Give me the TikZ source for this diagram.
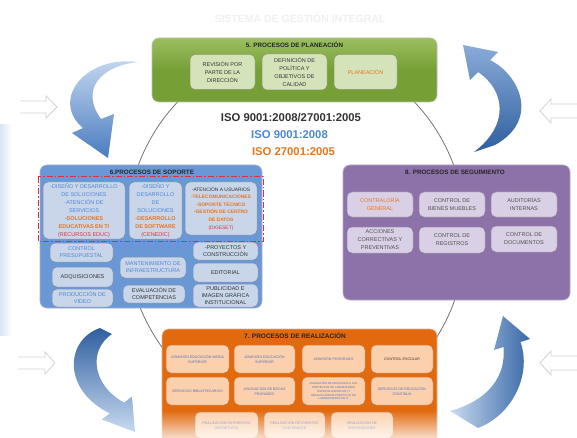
\documentclass[tikz,border=0pt]{standalone}
\usepackage{fontspec}
\setmainfont{Liberation Sans}
\usetikzlibrary{fadings}
\definecolor{gpan}{HTML}{76A036}
\definecolor{gpantop}{HTML}{9CBE60}
\definecolor{gfill}{HTML}{D5E3BB}
\definecolor{gline}{HTML}{8A9878}
\definecolor{bpan}{HTML}{6A98D6}
\definecolor{bline}{HTML}{A0B2CC}
\definecolor{bfill}{HTML}{C9D6EA}
\definecolor{bfline}{HTML}{7E8DA6}
\definecolor{ppan}{HTML}{8C72A9}
\definecolor{pline}{HTML}{B6A6CA}
\definecolor{pfill}{HTML}{D9D0E5}
\definecolor{pfline}{HTML}{9A8FAA}
\definecolor{opan}{HTML}{E2690E}
\definecolor{ofill}{HTML}{FCD0AC}
\definecolor{ofline}{HTML}{C8804A}
\definecolor{darktxt}{HTML}{333333}
\definecolor{graytxt}{HTML}{505050}
\definecolor{bluetxt}{HTML}{4E86D6}
\definecolor{tinyblue}{HTML}{5272C0}
\definecolor{orangetxt}{HTML}{E8741E}
\definecolor{redtxt}{HTML}{E0303C}
\definecolor{arrdark}{HTML}{2F5F9F}
\definecolor{arrmid}{HTML}{4A7CC0}
\definecolor{arrlight}{HTML}{C8DAF0}
\tikzfading[name=whitefade, top color=transparent!100, bottom color=transparent!0]
\begin{document}
\begin{tikzpicture}[x=1pt,y=-1pt,
  gpanelbox/.style={draw=gline!60, rounded corners=7pt, line width=0.6pt, top color=gpantop, bottom color=gpan, middle color=gpan},
  bpanelbox/.style={draw=bline, rounded corners=7pt, line width=0.6pt, fill=bpan},
  ppanelbox/.style={draw=pline, rounded corners=7pt, line width=0.6pt, fill=ppan},
  opanelbox/.style={draw=ofline!60, rounded corners=7pt, line width=0.6pt, fill=opan},
  ptitle/.style={font=\fontsize{6.3}{7}\selectfont\bfseries, text=black!85, inner sep=0pt},
  gbox/.style={draw=gline, fill=gfill, rounded corners=5pt, line width=0.5pt, align=center, inner sep=0pt, text=darktxt, font=\fontsize{5.5}{8}\selectfont},
  bbox/.style={draw=bfline, fill=bfill, rounded corners=5pt, line width=0.5pt, align=center, inner sep=0pt, text=darktxt, font=\fontsize{5.5}{8}\selectfont},
  pbox/.style={draw=pfline, fill=pfill, rounded corners=5pt, line width=0.5pt, align=center, inner sep=0pt, text=graytxt, font=\fontsize{5.5}{8}\selectfont},
  obox/.style={draw=ofline, fill=ofill, rounded corners=5pt, line width=0.5pt, align=center, inner sep=0pt, text=tinyblue, font=\fontsize{3.6}{5}\selectfont},
  hollowarrow/.style={fill=white, draw=gray!35, line width=0.8pt, line join=miter},
  isotxt/.style={font=\fontsize{11.3}{12}\selectfont\bfseries, inner sep=0pt}
]
\useasboundingbox (0,0) rectangle (577,438);

% faint heading
\node[font=\fontsize{10.5}{12}\selectfont\bfseries, text=black!6, inner sep=0pt] (heading) at (300,18) {SISTEMA DE GESTIÓN INTEGRAL};

% left edge shade
\shade[left color=arrlight!70!white, right color=white] (0,125) rectangle (12,335);

% ellipse behind panels
\draw[black!55, line width=0.8pt] (296,234) ellipse [x radius=170pt, y radius=184pt];

% hollow arrows
\draw[hollowarrow] (20,101) -- (46,101) -- (46,96) -- (57,107) -- (46,118) -- (46,113) -- (20,113);
\draw[hollowarrow] (18,357) -- (45,357) -- (45,352) -- (55,363) -- (45,374) -- (45,369) -- (18,369);
\draw[hollowarrow] (578,104) -- (551,104) -- (551,99) -- (540,111) -- (551,123) -- (551,118) -- (578,118);
\draw[hollowarrow] (578,356) -- (551,356) -- (551,351) -- (540,363) -- (551,375) -- (551,370) -- (578,370);

% big curved arrows
\shade[top color=arrlight, bottom color=arrmid] (138,62) .. controls (85,55) and (50,100) .. (83,128) -- (72,133) -- (108,158) -- (114,114) -- (101,119) .. controls (80,90) and (100,66) .. (138,62) -- cycle;
\shade[top color=arrmid!50!arrlight, bottom color=arrdark] (463,45) -- (498,52) -- (490,60) .. controls (520,75) and (540,120) .. (495,145) -- (474,152) .. controls (510,125) and (505,90) .. (478,72) -- (470,80) -- cycle;
\shade[left color=arrlight, right color=arrdark!80!arrmid] (503,316) -- (530,339) -- (520.5,342) .. controls (532,375) and (512,415) .. (478,428) -- (450,411) .. controls (490,400) and (506,375) .. (503.5,347) -- (494,350) -- cycle;
\shade[top color=arrdark, bottom color=arrlight] (100,328) .. controls (65,340) and (62,390) .. (109.8,413.4) -- (101.8,419.4) -- (135,432) -- (132,396.6) -- (124,402.6) .. controls (92,385) and (88,350) .. (112,334) -- cycle;

% ===== 5. PLANEACION =====
\node[gpanelbox, minimum width=285pt, minimum height=64pt] (gp) at (294.5,70) {};
\node[ptitle] (gt) at (294.5,44.5) {5. PROCESOS DE PLANEACIÓN};
\node[gbox, minimum width=65pt, minimum height=35pt] (g1) at (222.5,72) {REVISIÓN POR\\PARTE DE LA\\DIRECCIÓN};
\node[gbox, minimum width=65pt, minimum height=36pt] (g2) at (294.5,72) {DEFINICIÓN DE\\POLÍTICA Y\\OBJETIVOS DE\\CALIDAD};
\node[gbox, minimum width=63pt, minimum height=35pt, text=orangetxt] (g3) at (365.5,72) {PLANEACIÓN};

% ISO texts
\node[isotxt, text=darktxt] (iso1) at (291,118) {ISO 9001:2008/27001:2005};
\node[isotxt, text=bluetxt] (iso2) at (289.5,135) {ISO 9001:2008};
\node[isotxt, text=orangetxt] (iso3) at (293.5,152) {ISO 27001:2005};

% ===== 6. SOPORTE =====
\node[bpanelbox, minimum width=222pt, minimum height=143pt] (bp) at (151,236.5) {};
\node[ptitle] (bt) at (152,172) {6.PROCESOS DE SOPORTE};
\node[bbox, minimum width=82pt, minimum height=57pt] (b1) at (84,210.5) {\textcolor{bluetxt}{-DISEÑO Y DESARROLLO}\\\textcolor{bluetxt}{DE SOLUCIONES}\\\textcolor{bluetxt}{-ATENCIÓN DE}\\\textcolor{bluetxt}{SERVICIOS}\\\textcolor{orangetxt}{\bfseries -SOLUCIONES}\\\textcolor{orangetxt}{\bfseries EDUCATIVAS EN TI}\\\textcolor{redtxt}{(RECURSOS EDUC)}};
\node[bbox, minimum width=53pt, minimum height=57pt] (b2) at (155.5,210.5) {\textcolor{bluetxt}{-DISEÑO Y}\\\textcolor{bluetxt}{DESARROLLO}\\\textcolor{bluetxt}{DE}\\\textcolor{bluetxt}{SOLUCIONES}\\\textcolor{orangetxt}{\bfseries -DESARROLLO}\\\textcolor{orangetxt}{\bfseries DE SOFTWARE}\\\textcolor{redtxt}{(CENEDIC)}};
\node[bbox, minimum width=72pt, minimum height=53pt, font=\fontsize{4.9}{7.6}\selectfont] (b3) at (221,208.5) {-ATENCIÓN A USUARIOS\\\textcolor{orangetxt}{\bfseries -TELECOMUNICACIONES}\\\textcolor{orangetxt}{\bfseries -SOPORTE TÉCNICO}\\\textcolor{orangetxt}{\bfseries -GESTIÓN DE CENTRO}\\\textcolor{orangetxt}{\bfseries DE DATOS}\\\textcolor{redtxt}{(DIGESET)}};
\draw[redtxt, line width=1pt, dash pattern=on 6pt off 2pt on 1.5pt off 2pt] (38,177) rectangle (263,241);
\node[bbox, minimum width=63pt, minimum height=19pt, text=bluetxt, font=\fontsize{5.5}{7}\selectfont] (b4) at (81.5,252.5) {CONTROL\\PRESUPUESTAL};
\node[bbox, minimum width=61pt, minimum height=20pt] (b5) at (82.5,277) {ADQUISICIONES};
\node[bbox, minimum width=61pt, minimum height=18pt, text=bluetxt, font=\fontsize{5.5}{7}\selectfont] (b6) at (82.5,298) {PRODUCCIÓN DE\\VIDEO};
\node[bbox, minimum width=66pt, minimum height=21pt, text=bluetxt, font=\fontsize{5.5}{7}\selectfont] (b7) at (153,267.5) {MANTENIMIENTO DE\\INFRAESTRUCTURA};
\node[bbox, minimum width=62pt, minimum height=18pt, font=\fontsize{5.5}{7}\selectfont] (b8) at (154,294) {EVALUACIÓN DE\\COMPETENCIAS};
\node[bbox, minimum width=65pt, minimum height=18pt, font=\fontsize{5.5}{7}\selectfont] (b9) at (225.5,251) {-PROYECTOS Y\\CONSTRUCCIÓN};
\node[bbox, minimum width=65pt, minimum height=19pt] (b10) at (225.5,272.5) {EDITORIAL};
\node[bbox, minimum width=65pt, minimum height=23pt, font=\fontsize{5.5}{6.8}\selectfont] (b11) at (225.5,295.5) {PUBLICIDAD E\\IMAGEN GRÁFICA\\INSTITUCIONAL};

% ===== 8. SEGUIMIENTO =====
\node[ppanelbox, minimum width=227pt, minimum height=135pt] (pp) at (456.5,232.5) {};
\node[ptitle] (pt) at (455,172) {8. PROCESOS DE SEGUIMIENTO};
\node[pbox, minimum width=66pt, minimum height=25pt, text=orangetxt] (p1) at (380,204.5) {CONTRALORÍA\\GENERAL};
\node[pbox, minimum width=66pt, minimum height=25pt] (p2) at (452,204.5) {CONTROL DE\\BIENES MUEBLES};
\node[pbox, minimum width=66pt, minimum height=25pt] (p3) at (524,204.5) {AUDITORÍAS\\INTERNAS};
\node[pbox, minimum width=66pt, minimum height=26pt] (p4) at (380,240) {ACCIONES\\CORRECTIVAS Y\\PREVENTIVAS};
\node[pbox, minimum width=66pt, minimum height=26pt] (p5) at (452,240) {CONTROL DE\\REGISTROS};
\node[pbox, minimum width=66pt, minimum height=26pt] (p6) at (524,239) {CONTROL DE\\DOCUMENTOS};

% ===== 7. REALIZACION =====
\node[opanelbox, minimum width=275pt, minimum height=120pt] (op) at (299.5,389) {};
\node[ptitle, font=\fontsize{6.5}{7}\selectfont\bfseries] (ot) at (295,336) {7. PROCESOS DE REALIZACIÓN};
\node[obox, minimum width=63pt, minimum height=28pt] (o1) at (197.5,359) {ADMISIÓN EDUCACIÓN MEDIA\\SUPERIOR};
\node[obox, minimum width=61pt, minimum height=28pt] (o2) at (264.5,359) {ADMISIÓN EDUCACIÓN\\SUPERIOR};
\node[obox, minimum width=63pt, minimum height=28pt] (o3) at (333.5,359) {ADMISIÓN POSGRADO};
\node[obox, minimum width=62pt, minimum height=28pt, text=darktxt] (o4) at (402,359) {CONTROL ESCOLAR};
\node[obox, minimum width=63pt, minimum height=28pt] (o5) at (197.5,391) {SERVICIOS BIBLIOTECARIOS};
\node[obox, minimum width=61pt, minimum height=28pt] (o6) at (264.5,391) {ASIGNACIÓN DE BECAS\\PRONABES};
\node[obox, minimum width=63pt, minimum height=28pt, font=\fontsize{2.8}{3.8}\selectfont] (o7) at (333.5,391) {ASIGNACIÓN DE RECURSOS A LOS\\PROYECTOS DE LABORATORIO\\ESPECIALIZADOS EN TI\\REALIZACIÓN DE PRÁCTICAS EN\\LABORATORIOS DE TI};
\node[obox, minimum width=62pt, minimum height=28pt] (o8) at (402,391) {SERVICIOS DE EDUCACIÓN\\CONTINUA};
\node[obox, minimum width=63pt, minimum height=26pt] (o9) at (226.5,425) {REALIZACIÓN DE EVENTOS\\DEPORTIVOS};
\node[obox, minimum width=61pt, minimum height=26pt] (o10) at (294.5,425) {REALIZACIÓN DE EVENTOS\\CULTURALES};
\node[obox, minimum width=62pt, minimum height=26pt] (o11) at (362,425) {REALIZACIÓN DE\\EXPOSICIONES};

% bottom white fade
\fill[white, path fading=whitefade] (140,410) rectangle (460,446);
\end{tikzpicture}
\end{document}
